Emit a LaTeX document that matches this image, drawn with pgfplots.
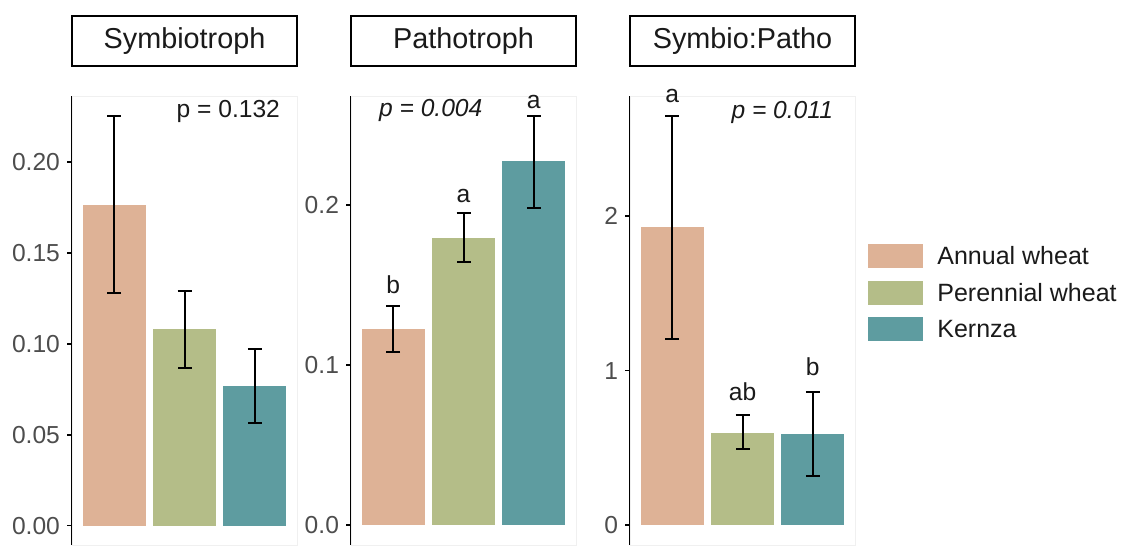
\documentclass[border=0pt]{standalone}
\usepackage{pgfplots}
\pgfplotsset{compat=1.18}
\usepackage{fontspec}
\setmainfont{Liberation Sans}
\definecolor{aw}{RGB}{222,178,150}
\definecolor{pw}{RGB}{180,189,136}
\definecolor{kz}{RGB}{94,156,160}
\definecolor{tickgray}{RGB}{77,77,77}
\definecolor{txt}{RGB}{26,26,26}
\tikzset{lab/.style={font=\fontsize{12.3}{14}\selectfont, text=txt}}
\pgfplotsset{
 panel/.style={
  scale only axis, width=112.5pt, height=224.5pt, anchor=south west,
  xmin=0.4, xmax=3.6, axis x line=none, axis y line*=left,
  xtick=\empty,
  y axis line style={black, line width=1.2pt},
  tick align=outside, major tick length=2.5pt,
  ytick style={black, line width=0.9pt},
  yticklabel style={font=\fontsize{12.3}{14}\selectfont, text=tickgray},
  /pgf/number format/assume math mode=true,
  clip=false,
 },
 barA/.style={ybar, bar width=0.9, bar shift=0pt, fill=aw, draw=none},
 barP/.style={ybar, bar width=0.9, bar shift=0pt, fill=pw, draw=none},
 barK/.style={ybar, bar width=0.9, bar shift=0pt, fill=kz, draw=none},
 eb/.style={error bars/y dir=both, error bars/y explicit,
   error bars/error bar style={black, line width=1pt},
   error bars/error mark options={black, line width=1pt, mark size=3.5pt, rotate=90}},
}
\begin{document}
\begin{tikzpicture}
\useasboundingbox (0,0) rectangle (561pt,272.5pt);
% Panel 1
\begin{axis}[panel, at={(36pt,0pt)}, ymin=-0.0107, ymax=0.2364,
  ytick={0,0.05,0.10,0.15,0.20},
  yticklabel style={/pgf/number format/.cd, fixed, fixed zerofill, precision=2}]
\draw[black!6] (rel axis cs:0,0) rectangle (rel axis cs:1,1);
\addplot[barA, eb] coordinates {(1,0.1764) += (0,0.049) -= (0,0.0484)};
\addplot[barP, eb] coordinates {(2,0.1081) += (0,0.0209) -= (0,0.0214)};
\addplot[barK, eb] coordinates {(3,0.0768) += (0,0.0203) -= (0,0.0202)};
\node[lab, anchor=base east] at (axis cs:3.458,0.2248) {p = 0.132};
\end{axis}
% Panel 2
\begin{axis}[panel, at={(175.5pt,0pt)}, ymin=-0.0125, ymax=0.268,
  ytick={0,0.1,0.2},
  yticklabel style={/pgf/number format/.cd, fixed, fixed zerofill, precision=1}]
\draw[black!6] (rel axis cs:0,0) rectangle (rel axis cs:1,1);
\addplot[barA, eb] coordinates {(1,0.1225) += (0,0.0145) -= (0,0.0142)};
\addplot[barP, eb] coordinates {(2,0.1792) += (0,0.0160) -= (0,0.0152)};
\addplot[barK, eb] coordinates {(3,0.2271) += (0,0.0287) -= (0,0.0288)};
\node[lab, anchor=base west] at (axis cs:0.699,0.255) {\itshape p = 0.004};
\node[lab, anchor=base] at (axis cs:1,0.1445) {b};
\node[lab, anchor=base] at (axis cs:2,0.2012) {a};
\node[lab, anchor=base] at (axis cs:3,0.2604) {a};
\end{axis}
% Panel 3
\begin{axis}[panel, at={(315pt,0pt)}, ymin=-0.129, ymax=2.777,
  ytick={0,1,2}]
\draw[black!6] (rel axis cs:0,0) rectangle (rel axis cs:1,1);
\addplot[barA, eb] coordinates {(1,1.927) += (0,0.722) -= (0,0.723)};
\addplot[barP, eb] coordinates {(2,0.598) += (0,0.114) -= (0,0.106)};
\addplot[barK, eb] coordinates {(3,0.589) += (0,0.272) -= (0,0.270)};
\node[lab, anchor=base east] at (axis cs:3.387,2.634) {\itshape p = 0.011};
\node[lab, anchor=base] at (axis cs:1,2.738) {a};
\node[lab, anchor=base] at (axis cs:2,0.809) {ab};
\node[lab, anchor=base] at (axis cs:3,0.971) {b};
\end{axis}
% Strip titles
\foreach \xl/\t in {36/Symbiotroph, 175.5/Pathotroph, 315/Symbio:Patho}{
  \draw[line width=0.8pt, fill=white] (\xl pt,239.5pt) rectangle ++(112.5pt,25pt);
  \node[font=\fontsize{14.4}{16}\selectfont, text=txt] at (\xl pt+56.25pt,252pt) {\t};
}
% Legend
\fill[aw] (434pt,138.5pt) rectangle (461.5pt,150.5pt);
\fill[pw] (434pt,120pt) rectangle (461.5pt,132pt);
\fill[kz] (434pt,102pt) rectangle (461.5pt,114pt);
\node[font=\fontsize{12.5}{14}\selectfont, text=txt, anchor=west, inner sep=0pt] at (468.5pt,144.5pt) {Annual wheat};
\node[font=\fontsize{12.5}{14}\selectfont, text=txt, anchor=west, inner sep=0pt] at (468.5pt,126pt) {Perennial wheat};
\node[font=\fontsize{12.5}{14}\selectfont, text=txt, anchor=west, inner sep=0pt] at (468.5pt,108pt) {Kernza};
\end{tikzpicture}
\end{document}
